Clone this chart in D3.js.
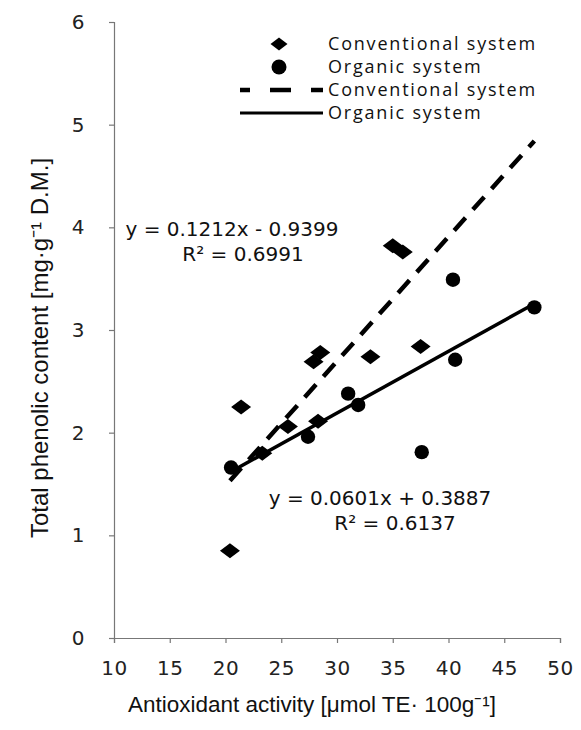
<!DOCTYPE html>
<html><head><meta charset="utf-8">
<script src="https://cdn.jsdelivr.net/npm/d3@7"></script>
<style>body{margin:0;background:#fff}svg{display:block}</style>
</head><body>
<svg id="c" width="581" height="730"></svg>
<script>
const convX = [20.4, 21.4, 23.3, 25.6, 27.9, 28.5, 28.3, 33.0, 35.0, 35.9, 37.5];
const convY = [0.85, 2.25, 1.80, 2.06, 2.69, 2.78, 2.11, 2.74, 3.82, 3.76, 2.84];
const orgX = [20.5, 27.4, 31.0, 31.9, 37.6, 40.4, 40.6, 47.7];
const orgY = [1.66, 1.96, 2.38, 2.27, 1.81, 3.49, 2.71, 3.22];
const trendConv = [0.1212, -0.9399];
const trendOrg = [0.0601, 0.3887];
const xTicks = [10, 15, 20, 25, 30, 35, 40, 45, 50];
const yTicks = [0, 1, 2, 3, 4, 5, 6];
const legendLabels = ["Conventional system", "Organic system", "Conventional system", "Organic system"];
const eqLabels = ["y = 0.1212x - 0.9399", "R² = 0.6991", "y = 0.0601x + 0.3887", "R² = 0.6137"];

const svg = d3.select("#c");
const L = 114, R = 560, T = 22, B = 638;
const x = d3.scaleLinear().domain([10, 50]).range([L, R]);
const y = d3.scaleLinear().domain([0, 6]).range([B, T]);
const tickFont = "'DejaVu Sans', sans-serif";

const xa = svg.append("g").attr("transform", `translate(0,${B})`)
  .call(d3.axisBottom(x).tickValues(xTicks).tickFormat(d3.format("d")).tickSize(5).tickPadding(18));
const ya = svg.append("g").attr("transform", `translate(${L},0)`)
  .call(d3.axisLeft(y).tickValues(yTicks).tickFormat(d3.format("d")).tickSize(5).tickPadding(24));
[xa, ya].forEach(a => {
  a.selectAll("path,line").attr("stroke", "#777").attr("stroke-width", 1.2);
  a.selectAll("text").attr("font-family", tickFont).attr("font-size", 20)
   .attr("fill", "#222").attr("letter-spacing", 0.5);
});

// trend lines
const allX = convX.concat(orgX);
const ext = d3.extent(allX);
function trend(c) { return ext.map(v => [x(v), y(c[0] * v + c[1])]); }
svg.append("path").attr("d", d3.line()(trend(trendConv)))
  .attr("stroke", "#000").attr("stroke-width", 4.5).attr("fill", "none")
  .attr("stroke-dasharray", "17,11");
svg.append("path").attr("d", d3.line()(trend(trendOrg)))
  .attr("stroke", "#000").attr("stroke-width", 3.5).attr("fill", "none");

const diamond = (cx, cy, w, h) => `M${cx - w},${cy}L${cx},${cy - h}L${cx + w},${cy}L${cx},${cy + h}Z`;
svg.append("g").selectAll("path").data(convX.map((v, i) => [v, convY[i]])).join("path")
  .attr("d", d => diamond(x(d[0]), y(d[1]), 10, 7.5)).attr("fill", "#000");
svg.append("g").selectAll("circle").data(orgX.map((v, i) => [v, orgY[i]])).join("circle")
  .attr("cx", d => x(d[0])).attr("cy", d => y(d[1])).attr("r", 7.2).attr("fill", "#000");

// legend
const lg = svg.append("g");
const ly = [44, 67, 90, 113];
lg.append("path").attr("d", diamond(279, ly[0], 8.5, 6.5)).attr("fill", "#000");
lg.append("circle").attr("cx", 279).attr("cy", ly[1]).attr("r", 7.5).attr("fill", "#000");
lg.append("line").attr("x1", 240).attr("x2", 323).attr("y1", ly[2]).attr("y2", ly[2])
  .attr("stroke", "#000").attr("stroke-width", 4.5).attr("stroke-dasharray", "21,20")
  .attr("stroke-dashoffset", 11);
lg.append("line").attr("x1", 240).attr("x2", 323).attr("y1", ly[3]).attr("y2", ly[3])
  .attr("stroke", "#000").attr("stroke-width", 3);
lg.selectAll("text").data(legendLabels).join("text")
  .attr("x", 328).attr("y", (d, i) => ly[i]).attr("dy", "0.35em")
  .attr("font-family", "'Open Sans', sans-serif").attr("font-size", 18)
  .attr("letter-spacing", 1.8).attr("fill", "#111")
  .text(d => d);

// equations
const eqPos = [[232, 229], [243, 254], [380, 498], [395, 523]];
svg.append("g").selectAll("text").data(eqLabels).join("text")
  .attr("x", (d, i) => eqPos[i][0]).attr("y", (d, i) => eqPos[i][1]).attr("dy", "0.35em")
  .attr("text-anchor", "middle")
  .attr("font-family", tickFont).attr("font-size", 20).attr("fill", "#111")
  .text(d => d);

// axis titles
svg.append("text").attr("x", 312).attr("y", 704).attr("dy", "0.35em").attr("text-anchor", "middle")
  .attr("font-family", "'Liberation Sans', Arial, sans-serif").attr("font-size", 22.5).attr("fill", "#111")
  .text("Antioxidant activity [μmol TE· 100g⁻¹]");
svg.append("text").attr("transform", "translate(40,348) rotate(-90)").attr("dy", "0.35em")
  .attr("text-anchor", "middle")
  .attr("font-family", "'Liberation Sans Narrow', 'Liberation Sans', Arial, sans-serif").attr("font-size", 24).attr("fill", "#111")
  .text("Total phenolic content [mg·g⁻¹ D.M.]");
</script>
</body></html>
